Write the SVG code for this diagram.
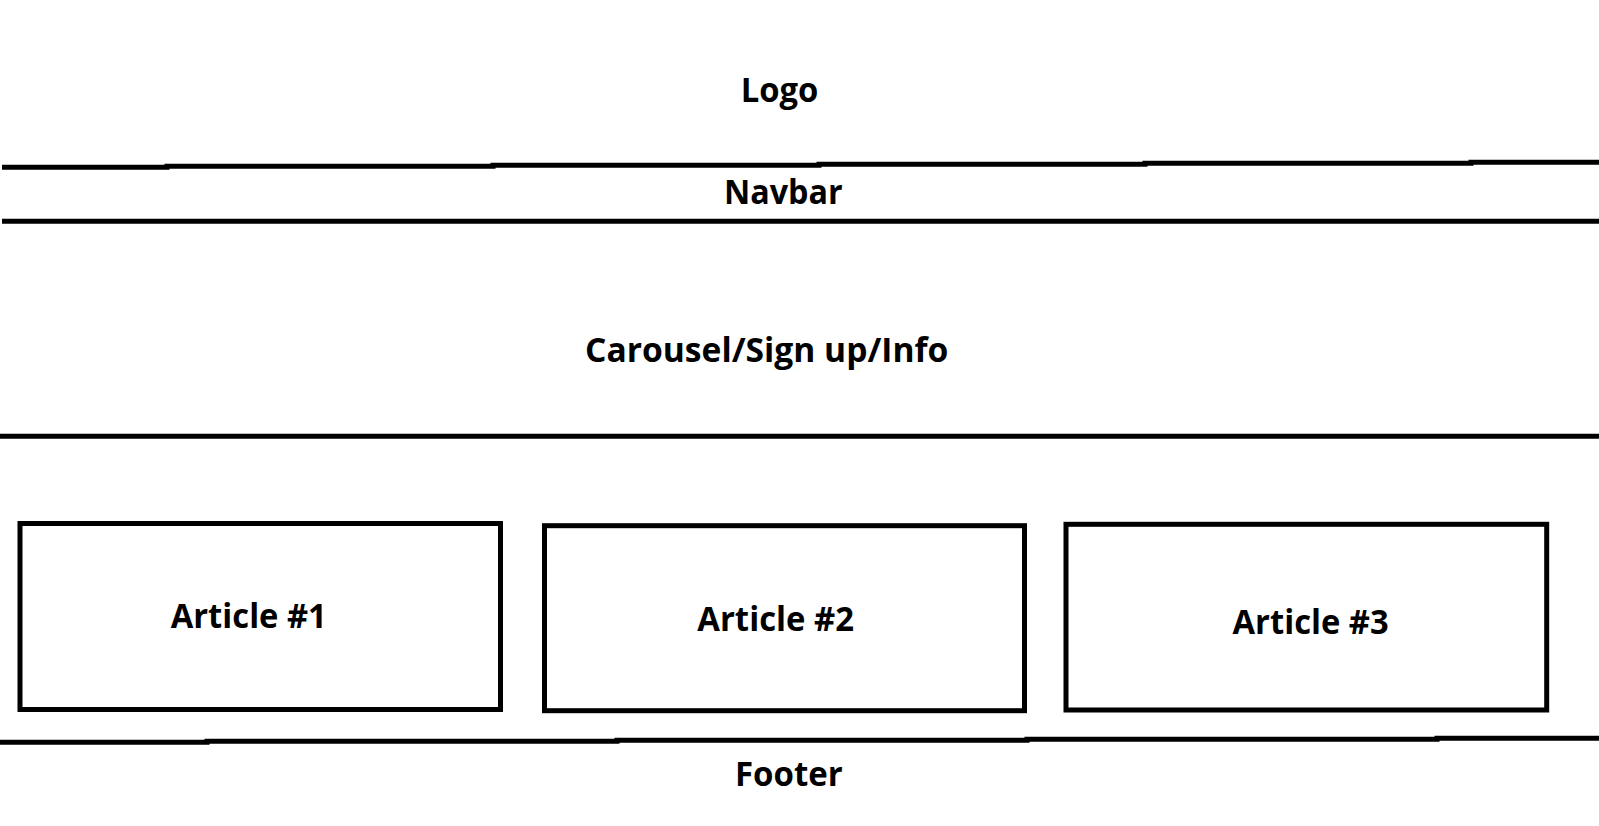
<svg xmlns="http://www.w3.org/2000/svg" width="1599" height="826" viewBox="0 0 1599 826">
  <style>
    .sep { fill: none; stroke: #000; stroke-width: 5; stroke-linecap: butt; stroke-linejoin: miter; }
    .box { fill: #fff; stroke: #000; stroke-width: 5; }
    .lbl { font-family: "Open Sans", "Noto Sans", "Liberation Sans", sans-serif; font-weight: 700; font-size: 34px; fill: #000; }
  </style>
  <rect x="0" y="0" width="1599" height="826" fill="#fff"/>
  <g id="dividers">
    <path class="sep" d="M2,167.3 H167 V166.3 H493 V165.3 H819 V164.3 H1145 V163.3 H1471 V162.3 H1599"/>
    <path class="sep" d="M2,221.3 H1599"/>
    <path class="sep" d="M0,436.3 H1599"/>
    <path class="sep" d="M0,742.3 H207 V741.3 H617 V740.3 H1027 V739.3 H1437 V738.3 H1599"/>
  </g>
  <g id="logo">
    <text class="lbl" x="740.7" y="101.7" textLength="77.6" lengthAdjust="spacingAndGlyphs">Logo</text>
  </g>
  <g id="navbar">
    <text class="lbl" x="724" y="204" textLength="118.7" lengthAdjust="spacingAndGlyphs">Navbar</text>
  </g>
  <g id="carousel">
    <text class="lbl" x="585" y="362.3" textLength="363.3" lengthAdjust="spacingAndGlyphs">Carousel/Sign up/Info</text>
  </g>
  <g id="article1">
    <rect class="box" x="20" y="523.5" width="480.5" height="186"/>
    <text class="lbl" x="170.7" y="627.7" textLength="156.1" lengthAdjust="spacingAndGlyphs">Article #1</text>
  </g>
  <g id="article2">
    <rect class="box" x="544.5" y="525.7" width="480" height="185"/>
    <text class="lbl" x="697.3" y="630.7" textLength="156.7" lengthAdjust="spacingAndGlyphs">Article #2</text>
  </g>
  <g id="article3">
    <rect class="box" x="1066" y="524.3" width="480.7" height="185.7"/>
    <text class="lbl" x="1232.5" y="634" textLength="156.2" lengthAdjust="spacingAndGlyphs">Article #3</text>
  </g>
  <g id="footer">
    <text class="lbl" x="735" y="786" textLength="107.7" lengthAdjust="spacingAndGlyphs">Footer</text>
  </g>
</svg>
